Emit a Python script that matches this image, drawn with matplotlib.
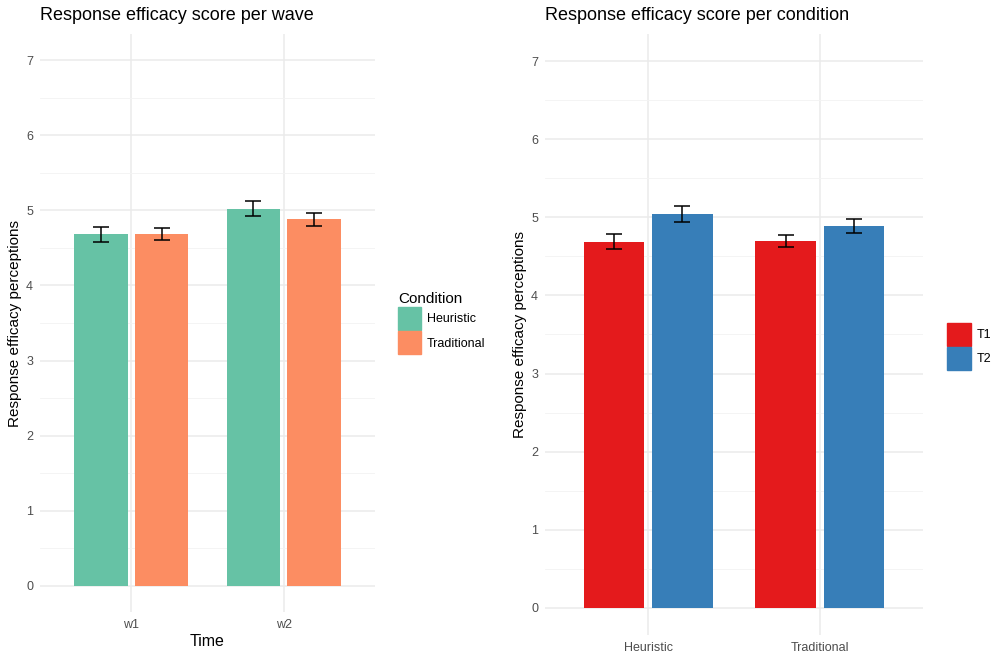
import numpy as np
import matplotlib
matplotlib.use("Agg")
import matplotlib.pyplot as plt
from matplotlib.patches import Patch

plt.rcParams['font.family'] = ['Liberation Sans', 'DejaVu Sans']

# data
waves = ["w1", "w2"]
wave_heuristic = [4.68, 5.02]
wave_heuristic_se = [0.10, 0.10]
wave_traditional = [4.69, 4.88]
wave_traditional_se = [0.08, 0.09]

conditions = ["Heuristic", "Traditional"]
cond_t1 = [4.69, 4.70]
cond_t1_se = [0.10, 0.08]
cond_t2 = [5.04, 4.89]
cond_t2_se = [0.10, 0.09]

W, H = 996, 654
fig = plt.figure(figsize=(W / 100, H / 100), dpi=100)


def px_axes(x0, x1, y0, y1):
    return fig.add_axes([x0 / W, 1 - y1 / H, (x1 - x0) / W, (y1 - y0) / H])


def style(ax, ncat):
    ax.set_xlim(0.4, ncat + 0.6)
    ax.set_ylim(-0.35, 7.35)
    ax.set_yticks(range(0, 8))
    ax.set_yticks(np.arange(0.5, 7.5, 1), minor=True)
    ax.set_xticks(range(1, ncat + 1))
    for s in ax.spines.values():
        s.set_visible(False)
    ax.grid(True, which='major', color='#EBEBEB', linewidth=1.1)
    ax.grid(True, which='minor', axis='y', color='#F3F3F3', linewidth=0.6)
    ax.tick_params(which='both', length=0, labelsize=9, labelcolor='#4D4D4D', pad=5)
    ax.set_axisbelow(True)


def bars(ax, a, a_se, b, b_se, ca, cb):
    x = np.arange(1, len(a) + 1)
    w = 0.35
    off = 0.2
    ax.bar(x - off, a, width=w, color=ca, zorder=2)
    ax.bar(x + off, b, width=w, color=cb, zorder=2)
    ax.errorbar(x - off, a, yerr=a_se, fmt='none', ecolor='black', elinewidth=1.1, capsize=5.8, capthick=1.1, zorder=3)
    ax.errorbar(x + off, b, yerr=b_se, fmt='none', ecolor='black', elinewidth=1.1, capsize=5.8, capthick=1.1, zorder=3)


# left panel
ax1 = px_axes(40, 375, 34, 612)
style(ax1, 2)
bars(ax1, wave_heuristic, wave_heuristic_se, wave_traditional, wave_traditional_se, '#66C2A5', '#FC8D62')
ax1.set_xticklabels(waves)
ax1.set_xlabel("Time", fontsize=11.5, labelpad=2)
ax1.set_ylabel("Response efficacy perceptions", fontsize=11, labelpad=3)
ax1.set_title("Response efficacy score per wave", fontsize=13, loc='left', x=0.0, pad=10)
ax1.legend(handles=[Patch(color='#66C2A5', label='Heuristic'), Patch(color='#FC8D62', label='Traditional')],
           title="Condition", loc='center left', bbox_to_anchor=(1.035, 0.5), frameon=False,
           fontsize=9, title_fontsize=11, handlelength=1.85, handleheight=2.45, handletextpad=0.45,
           labelspacing=0.1, alignment='left')

# right panel
ax2 = px_axes(545, 923, 34, 635)
style(ax2, 2)
bars(ax2, cond_t1, cond_t1_se, cond_t2, cond_t2_se, '#E41A1C', '#377EB8')
ax2.set_xticklabels(conditions)
ax2.set_ylabel("Response efficacy perceptions", fontsize=11, labelpad=3)
ax2.set_title("Response efficacy score per condition", fontsize=13, loc='left', x=0.0, pad=10)
ax2.legend(handles=[Patch(color='#E41A1C', label='T1'), Patch(color='#377EB8', label='T2')],
           loc='center left', bbox_to_anchor=(1.035, 0.48), frameon=False,
           fontsize=9, handlelength=1.85, handleheight=2.45, handletextpad=0.45, labelspacing=0.1)

fig.savefig("out.png", dpi=100, facecolor='white')
